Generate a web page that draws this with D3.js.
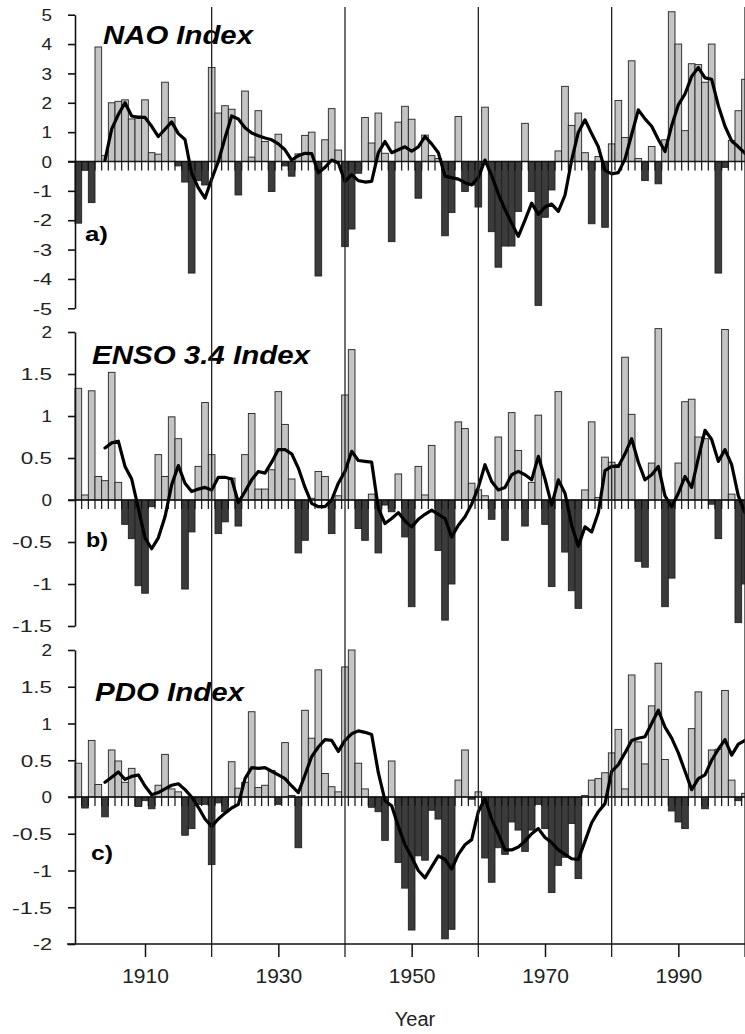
<!DOCTYPE html>
<html><head><meta charset="utf-8">
<script src="https://cdn.jsdelivr.net/npm/d3@7"></script>
<style>
html,body{margin:0;padding:0;background:#fff;}
svg{display:block;font-family:"Liberation Sans",Arial,Helvetica,sans-serif;}
</style></head><body>
<svg id="chart" width="745" height="1034"></svg>
<script>
// ---------- DATA ----------
const firstYear = 1900, lastYear = 2000;
const years = d3.range(firstYear, lastYear + 1);
const lineStartYear = 1904;
const lineYears = d3.range(lineStartYear, lastYear + 1);

const naoValues = [
 -2.1,-0.3,-1.4,3.9,0.2,2.0,2.05,2.1,1.45,1.55,
 2.1,0.3,0.25,2.7,1.5,-0.15,-0.7,-3.8,-0.65,-0.8,
 3.2,1.65,1.9,1.78,-1.14,2.4,0.15,1.73,0.68,-1.02,
 0.93,-0.15,-0.5,0.26,0.89,1.0,-3.9,0.74,1.8,0.39,
 -2.9,-2.3,-0.4,1.5,0.63,1.65,0.28,-2.73,1.34,1.88,
 1.44,-1.25,0.9,0.2,0.1,-2.53,-1.74,1.53,-1.02,-0.8,
 -1.55,1.85,-2.39,-3.6,-2.88,-2.88,-1.7,1.3,-1.02,-4.9,
 -1.9,-0.97,0.36,2.56,1.23,1.65,0.3,-2.12,0.17,-2.24,
 0.6,2.08,0.82,3.43,0.1,-0.65,0.51,-0.76,0.74,5.1,
 4.0,1.05,3.33,3.3,2.7,4.0,-3.8,-0.2,0.72,1.73,
 2.8];
const naoSmooth = [
 0.05,1.1,1.6,2.0,1.55,1.5,1.5,1.2,0.85,1.1,
 1.35,0.95,0.75,-0.4,-0.9,-1.25,-0.6,0.0,0.8,1.55,
 1.45,1.15,0.97,0.88,0.8,0.74,0.6,0.4,0.05,0.2,
 0.28,0.27,-0.38,-0.2,0.05,-0.05,-0.68,-0.45,-0.65,-0.7,
 -0.68,0.3,0.68,0.3,0.4,0.5,0.35,0.5,0.85,0.6,
 0.3,-0.5,-0.55,-0.6,-0.72,-0.8,-0.55,0.05,-0.48,-1.1,
 -1.64,-2.1,-2.55,-2.0,-1.42,-1.8,-1.55,-1.45,-1.7,-1.15,
 0.05,1.0,1.42,0.95,0.5,-0.3,-0.42,-0.38,0.08,0.92,
 1.76,1.45,1.2,0.75,0.34,1.22,1.93,2.3,2.9,3.2,
 2.85,2.8,1.9,1.2,0.7,0.5,0.28];

const ensoValues = [
 1.33,0.06,1.3,0.28,0.23,1.52,0.21,-0.29,-0.46,-1.02,
 -1.11,-0.08,0.54,0.28,0.99,0.73,-1.06,-0.38,0.4,1.16,
 0.54,-0.4,-0.26,0.26,-0.31,0.54,1.03,0.13,0.13,0.36,
 1.29,0.9,0.25,-0.63,-0.48,0.02,0.34,0.28,-0.4,0.05,
 1.25,1.79,-0.34,-0.48,0.07,-0.63,-0.06,-0.14,0.31,-0.44,
 -1.27,0.4,0.06,0.65,-0.6,-1.43,-1.0,0.93,0.85,0.2,
 0.12,0.05,-0.23,0.75,-0.48,1.04,0.59,-0.31,0.21,1.01,
 -0.29,-1.03,1.29,-0.62,-1.08,-1.29,0.12,0.93,0.03,0.51,
 0.45,0.42,1.7,1.02,-0.73,-0.8,0.44,2.04,-1.27,-0.93,
 0.44,1.17,1.2,0.75,0.73,-0.05,-0.46,2.03,0.07,-1.46,
 -1.0];
const ensoSmooth = [
 0.62,0.68,0.7,0.4,0.25,-0.1,-0.45,-0.58,-0.45,-0.2,
 0.18,0.41,0.2,0.1,0.13,0.15,0.12,0.27,0.27,0.25,
 -0.03,0.1,0.24,0.34,0.32,0.45,0.6,0.6,0.55,0.38,
 0.15,-0.04,-0.08,-0.08,0.0,0.2,0.34,0.58,0.47,0.46,
 0.45,-0.1,-0.28,-0.22,-0.15,-0.25,-0.32,-0.23,-0.17,-0.12,
 -0.17,-0.22,-0.44,-0.3,-0.2,-0.05,0.15,0.42,0.22,0.12,
 0.15,0.3,0.34,0.3,0.24,0.52,0.25,-0.06,0.24,0.08,
 -0.3,-0.55,-0.32,-0.38,-0.15,0.35,0.4,0.4,0.55,0.73,
 0.45,0.24,0.3,0.4,0.05,-0.08,0.08,0.28,0.15,0.5,
 0.83,0.72,0.46,0.6,0.42,0.05,-0.15];

const pdoValues = [
 0.46,-0.15,0.77,0.17,-0.27,0.64,0.49,0.2,0.39,-0.13,
 -0.05,-0.16,0.16,0.58,0.11,0.07,-0.52,-0.43,-0.1,-0.1,
 -0.92,-0.08,-0.2,0.48,0.12,0.2,1.16,0.13,0.16,0.36,
 -0.1,0.74,0.02,-0.69,1.18,0.8,1.73,0.32,0.14,0.07,
 1.77,2.0,0.46,0.11,-0.14,-0.2,-0.59,0.49,-0.89,-1.24,
 -1.81,-0.8,-0.86,-0.18,-0.3,-1.93,-1.8,0.23,0.64,-0.03,
 0.07,-0.83,-1.16,-0.69,-0.78,-0.34,-0.45,-0.74,-0.45,-0.1,
 -0.43,-1.3,-0.93,-0.82,-0.36,-1.11,0.02,0.23,0.25,0.33,
 0.6,0.92,0.11,1.66,0.75,0.45,1.24,1.82,0.51,-0.19,
 -0.34,-0.43,0.93,1.43,-0.16,0.64,0.65,1.45,0.23,-0.05,
 0.05];
const pdoSmooth = [
 0.2,0.27,0.34,0.24,0.28,0.3,0.15,0.03,0.06,0.11,
 0.16,0.18,0.1,0.0,-0.14,-0.3,-0.4,-0.3,-0.22,-0.15,
 -0.1,0.25,0.4,0.39,0.4,0.35,0.3,0.25,0.15,0.06,
 0.3,0.55,0.68,0.78,0.77,0.62,0.77,0.86,0.9,0.88,
 0.85,0.33,-0.05,-0.12,-0.4,-0.65,-0.82,-1.0,-1.1,-0.95,
 -0.8,-0.85,-0.98,-0.78,-0.65,-0.58,-0.2,-0.02,-0.3,-0.5,
 -0.72,-0.72,-0.68,-0.6,-0.5,-0.43,-0.55,-0.62,-0.72,-0.78,
 -0.84,-0.85,-0.6,-0.35,-0.2,-0.09,0.35,0.44,0.6,0.77,
 0.8,0.82,1.0,1.18,0.95,0.8,0.6,0.35,0.1,0.25,
 0.3,0.5,0.65,0.78,0.57,0.72,0.77];

const naoTicks = [5,4,3,2,1,0,-1,-2,-3,-4,-5];
const naoTickLabels = ["5","4","3","2","1","0","-1","-2","-3","-4","-5"];
const ensoTicks = [2,1.5,1,0.5,0,-0.5,-1,-1.5];
const ensoTickLabels = ["2","1.5","1","0.5","0","-0.5","-1","-1.5"];
const pdoTicks = [2,1.5,1,0.5,0,-0.5,-1,-1.5,-2];
const pdoTickLabels = ["2","1.5","1","0.5","0","-0.5","-1","-1.5","-2"];

const xLabelYears = [1910,1930,1950,1970,1990];
const decadeLines = [1920,1940,1960,1980,2000];
const panelTitles = ["NAO Index","ENSO 3.4 Index","PDO Index"];
const panelLetters = ["a)","b)","c)"];
const xAxisTitle = "Year";

// ---------- LAYOUT ----------
const svg = d3.select("#chart");
const axisX = 75, plotRight = 745;
const x = d3.scaleLinear().domain([firstYear - 0.5, lastYear]).range([axisX, plotRight]);
const bw = x(1) - x(0);
const LIGHT = "#c4c4c4", DARK = "#3b3b3b", INK = "#111";

function stretch(sel, factor, extra){
  sel.each(function(){
    const w = this.getComputedTextLength();
    const n = this.textContent.length;
    this.setAttribute("textLength", w*factor + (n-1)*extra);
    this.setAttribute("lengthAdjust", "spacingAndGlyphs");
  });
}

const panels = [
  {vals: naoValues, smooth: naoSmooth, domain: [-5,5], range: [308.3,14.7], ticks: naoTicks, labels: naoTickLabels,
   title: panelTitles[0], tx: 103, ty: 44, tw: 150, letter: panelLetters[0], lx: 85, ly: 241, lw: 23},
  {vals: ensoValues, smooth: ensoSmooth, domain: [-1.5,2], range: [626,332], ticks: ensoTicks, labels: ensoTickLabels,
   title: panelTitles[1], tx: 92, ty: 364, tw: 218, letter: panelLetters[1], lx: 86, ly: 547, lw: 22},
  {vals: pdoValues, smooth: pdoSmooth, domain: [-2,2], range: [944,650], ticks: pdoTicks, labels: pdoTickLabels,
   title: panelTitles[2], tx: 95, ty: 701, tw: 149, letter: panelLetters[2], lx: 91, ly: 860, lw: 22}
];

panels.forEach(p => {
  const y = d3.scaleLinear().domain(p.domain).range(p.range);
  const g = svg.append("g");
  const y0 = y(0);

  // bars
  g.append("g").selectAll("rect").data(years.map((yr,i)=>({yr, v:p.vals[i]})))
    .join("rect")
    .attr("x", d => x(d.yr - 0.5))
    .attr("width", bw)
    .attr("y", d => Math.min(y(d.v), y0))
    .attr("height", d => Math.abs(y(d.v) - y0))
    .attr("fill", d => d.v >= 0 ? LIGHT : DARK)
    .attr("stroke", "#222")
    .attr("stroke-width", 0.9);

  // minor ticks under zero line
  g.append("g").selectAll("line").data(years.slice(0, -1))
    .join("line")
    .attr("x1", d => x(d + 0.5)).attr("x2", d => x(d + 0.5))
    .attr("y1", y0).attr("y2", y0 + 9)
    .attr("stroke", INK).attr("stroke-width", 1.2);

  // zero line
  g.append("line").attr("x1", axisX - 7).attr("x2", plotRight)
    .attr("y1", y0).attr("y2", y0).attr("stroke", INK).attr("stroke-width", 1.6);

  // y axis
  const ax = d3.axisLeft(y).tickValues(p.ticks).tickSize(7).tickSizeOuter(0).tickPadding(16)
    .tickFormat((d,i) => p.labels[i]);
  const ag = g.append("g").attr("transform", `translate(${axisX},0)`).call(ax);
  ag.select(".domain").attr("stroke", INK).attr("stroke-width", 1.6);
  ag.selectAll(".tick line").attr("stroke", INK).attr("stroke-width", 1.6);
  ag.selectAll(".tick text").attr("font-size", 16).attr("fill", "#222")
    .attr("font-family", '"Liberation Sans",Arial,sans-serif').attr("dy", "0.36em");
  stretch(ag.selectAll(".tick text"), 1.18, 2.5);

  // smoothed line
  const line = d3.line().x((d,i) => x(lineYears[i])).y(d => y(d)).curve(d3.curveLinear);
  g.append("path").datum(p.smooth).attr("d", line)
    .attr("fill", "none").attr("stroke", "#000").attr("stroke-width", 3.2)
    .attr("stroke-linejoin", "round").attr("stroke-linecap", "round");

  // title and letter
  g.append("text").attr("x", p.tx).attr("y", p.ty).text(p.title)
    .attr("font-size", 25).attr("font-weight", "bold").attr("font-style", "italic").attr("fill", "#000")
    .attr("textLength", p.tw).attr("lengthAdjust", "spacingAndGlyphs");
  g.append("text").attr("x", p.lx).attr("y", p.ly).text(p.letter)
    .attr("font-size", 21).attr("font-weight", "bold").attr("fill", "#000")
    .attr("textLength", p.lw).attr("lengthAdjust", "spacingAndGlyphs");
});

// decade vertical lines
svg.append("g").selectAll("line").data(decadeLines).join("line")
  .attr("x1", d => x(d)).attr("x2", d => x(d))
  .attr("y1", 7).attr("y2", 957)
  .attr("stroke", "#222").attr("stroke-width", 1.3);

// bottom axis
const xb = d3.axisBottom(x).tickValues(xLabelYears).tickSize(13).tickSizeOuter(0).tickPadding(6)
  .tickFormat(d3.format("d"));
const xg = svg.append("g").attr("transform", "translate(0,944)").call(xb);
xg.select(".domain").remove();
xg.selectAll(".tick line").attr("stroke", INK).attr("stroke-width", 1.5);
xg.selectAll(".tick text").attr("font-size", 21).attr("fill", "#222")
  .attr("font-family", '"Liberation Sans",Arial,sans-serif').attr("dy", "0.95em");
svg.append("line").attr("x1", 67).attr("x2", plotRight).attr("y1", 944).attr("y2", 944)
  .attr("stroke", INK).attr("stroke-width", 1.6);

svg.append("text").attr("x", (axisX + plotRight)/2 + 5).attr("y", 1026).attr("text-anchor", "middle")
  .attr("font-size", 20).attr("fill", "#222").text(xAxisTitle);
</script>
</body></html>
